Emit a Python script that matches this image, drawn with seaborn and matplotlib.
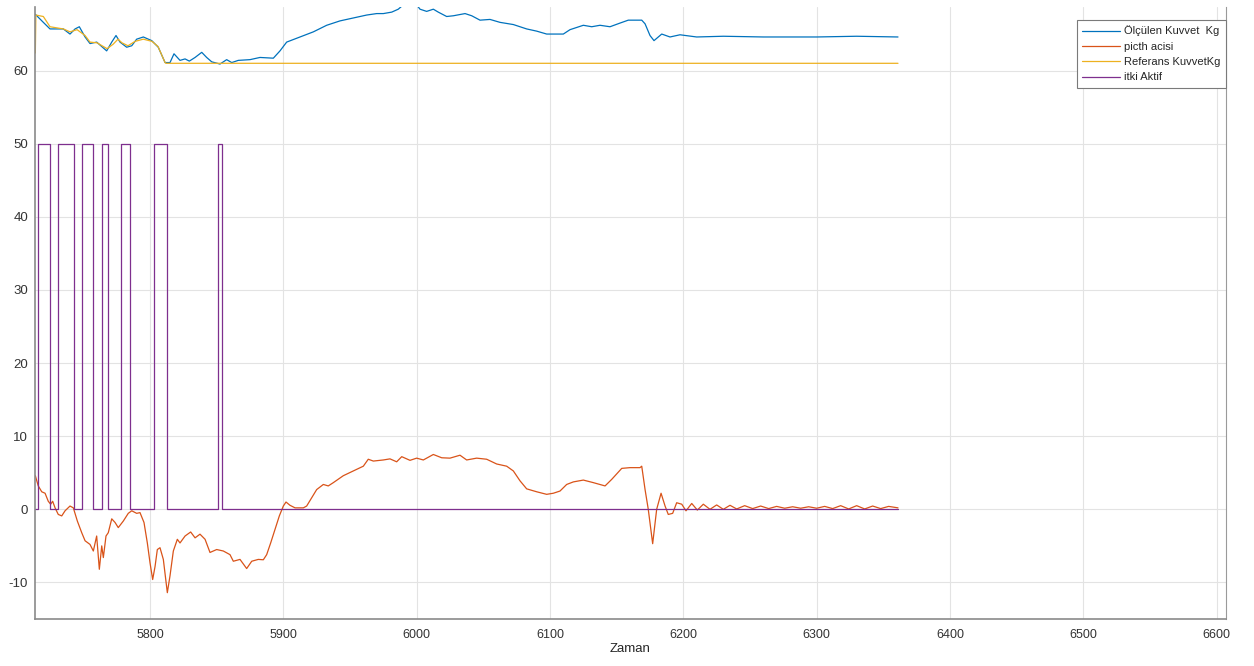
import matplotlib
matplotlib.use("Agg")
import matplotlib.pyplot as plt
import seaborn as sns

# Ölçülen kuvvet (mavi)
olculen_x = [5714, 5720, 5725, 5735, 5740, 5743.8, 5747, 5751.3, 5755, 5760,
             5767.5, 5771.3, 5774.5, 5777.5, 5782.5, 5786.3, 5790, 5795, 5801.3, 5806.2,
             5811.3, 5815, 5818, 5822.5, 5826.3, 5829.5, 5833.8, 5838.8, 5842.5, 5846.3,
             5852.5, 5857.5, 5861.3, 5866.2, 5875, 5882.5, 5892.5, 5897.5, 5902.5, 5912.5,
             5922.5, 5932.5, 5942.5, 5952.5, 5962.5, 5970, 5975, 5981.3, 5986.2, 5990,
             5995, 6000, 6002.5, 6007.5, 6012.5, 6016.2, 6022.5, 6027.5, 6036.3, 6041.3,
             6047.5, 6055, 6062.5, 6072.5, 6082.5, 6090, 6097.5, 6110, 6115, 6125,
             6131.3, 6137.5, 6145, 6152.5, 6158.7, 6168.8, 6171.3, 6175, 6178, 6183.8,
             6190, 6197.5, 6210, 6230, 6260, 6300, 6330, 6361]
olculen_y = [67.7, 66.6, 65.7, 65.7, 65.0, 65.7, 66.0, 64.6, 63.7, 63.9,
             62.7, 63.9, 64.8, 63.9, 63.2, 63.4, 64.3, 64.6, 64.1, 63.2,
             61.1, 61.1, 62.3, 61.4, 61.6, 61.3, 61.8, 62.5, 61.8, 61.2,
             60.9, 61.5, 61.1, 61.4, 61.5, 61.8, 61.7, 62.7, 63.9, 64.6,
             65.3, 66.2, 66.8, 67.2, 67.6, 67.8, 67.8, 68.0, 68.4, 69.0,
             69.3, 69.0, 68.4, 68.1, 68.4, 68.0, 67.4, 67.5, 67.8, 67.5,
             66.9, 67.0, 66.6, 66.3, 65.7, 65.4, 65.0, 65.0, 65.6, 66.2,
             66.0, 66.2, 66.0, 66.5, 66.9, 66.9, 66.4, 64.8, 64.1, 65.0,
             64.6, 64.9, 64.6, 64.7, 64.6, 64.6, 64.7, 64.6]

# picth acisi (turuncu)
pitch_x = [5714, 5716.2, 5718.8, 5721.3, 5723.7, 5725.5, 5727, 5728.8, 5731.2, 5733.8,
           5736.3, 5740, 5742.5, 5745.5, 5748.8, 5751.3, 5755, 5757.5, 5760, 5762,
           5763.8, 5765, 5767, 5768.7, 5771.3, 5773.8, 5776.2, 5780, 5783.7, 5786.3,
           5790, 5792.5, 5795.5, 5798, 5800, 5802, 5803.8, 5805.5, 5807.5, 5810,
           5813, 5815, 5817.5, 5820.5, 5822.5, 5826.3, 5830.5, 5833.8, 5837.5, 5841.3,
           5845, 5850, 5855, 5860, 5862.5, 5867.5, 5872.5, 5876.3, 5881.2, 5885,
           5887.5, 5890.5, 5893.8, 5897, 5900, 5902, 5905, 5908.8, 5915, 5917.5,
           5921.3, 5925, 5930, 5933.7, 5937.5, 5945, 5952.5, 5960, 5963.7, 5967.5,
           5975, 5980, 5985, 5988.8, 5995, 6000, 6005, 6012.5, 6018.8, 6025,
           6032.5, 6037.5, 6045, 6052.5, 6060, 6067.5, 6072.5, 6077.5, 6082.5, 6090,
           6097.5, 6102.5, 6107.5, 6112.5, 6117.5, 6125, 6132.5, 6141.3, 6146.3, 6153.8,
           6160, 6167.5, 6168.8, 6171.3, 6173.7, 6177, 6180, 6183.3, 6186.3, 6188.7,
           6192, 6195, 6198.8, 6202, 6206.3, 6210.5, 6215, 6220, 6225, 6230,
           6235, 6240, 6246, 6252, 6258, 6264, 6270, 6276, 6282, 6288,
           6294, 6300, 6306, 6312, 6318, 6324, 6330, 6336, 6342, 6348,
           6354, 6361]
pitch_y = [4.6, 3.2, 2.4, 2.2, 1.1, 0.7, 1.1, 0.2, -0.7, -0.9,
           -0.2, 0.45, 0.2, -1.6, -3.2, -4.3, -4.8, -5.7, -3.65, -8.2,
           -5.0, -6.6, -3.65, -3.2, -1.3, -1.8, -2.5, -1.6, -0.55, -0.2,
           -0.55, -0.45, -1.8, -4.6, -7.3, -9.6, -7.8, -5.5, -5.25, -6.85,
           -11.4, -9.1, -5.7, -4.1, -4.6, -3.65, -3.1, -3.9, -3.4, -4.1,
           -5.9, -5.5, -5.7, -6.2, -7.1, -6.85, -8.1, -7.1, -6.85, -6.9,
           -6.2, -4.6, -2.7, -0.9, 0.45, 1.0, 0.55, 0.2, 0.2, 0.45,
           1.6, 2.7, 3.4, 3.2, 3.65, 4.6, 5.25, 5.9, 6.85, 6.6,
           6.75, 6.9, 6.5, 7.2, 6.7, 7.0, 6.75, 7.5, 7.05, 7.0,
           7.4, 6.75, 7.0, 6.85, 6.2, 5.9, 5.25, 3.9, 2.8, 2.4,
           2.05, 2.2, 2.5, 3.4, 3.75, 4.0, 3.65, 3.2, 4.1, 5.6,
           5.7, 5.7, 5.9, 2.7, 0.0, -4.7, 0.0, 2.2, 0.45, -0.7,
           -0.55, 0.9, 0.7, -0.2, 0.8, -0.1, 0.7, 0.0, 0.6, 0.0,
           0.55, 0.05, 0.5, 0.1, 0.45, 0.1, 0.4, 0.15, 0.35, 0.15,
           0.35, 0.15, 0.4, 0.1, 0.5, 0.05, 0.5, 0.05, 0.45, 0.1,
           0.4, 0.2]

# Referans kuvvet (sarı)
referans_x = [5714, 5714.4, 5720, 5725, 5735, 5740, 5745.3, 5751.3, 5755, 5760.3,
              5767.8, 5772.3, 5776, 5779, 5783.5, 5788.8, 5795, 5801.5, 5806, 5811.3,
              5812, 6361]
referans_y = [62.4, 67.6, 67.4, 66.0, 65.7, 65.3, 65.6, 64.8, 63.9, 63.8,
              63.0, 63.6, 64.3, 63.8, 63.4, 64.0, 64.3, 64.0, 63.3, 61.1,
              61.0, 61.0]

# itki Aktif (mor), anahtarlama anları
itki_t = [5714, 5715.8, 5725, 5731, 5743, 5749, 5757, 5764, 5768.7, 5778,
          5784.8, 5803, 5812.5, 5851, 5854, 6361]
itki_v = [0, 50, 0, 50, 0, 50, 0, 50, 0, 50,
          0, 50, 0, 50, 0, 0]

etiketler = ["Ölçülen Kuvvet  Kg", "picth acisi", "Referans KuvvetKg", "itki Aktif"]
renkler = ["#0072BD", "#D95319", "#EDB120", "#7E2F8E"]

sns.set_style("white")
plt.rcParams["font.family"] = ["Liberation Sans", "DejaVu Sans"]
plt.rcParams["axes.unicode_minus"] = False

fig = plt.figure(figsize=(12.54, 6.66), dpi=100)
ax = fig.add_axes([35 / 1254, 47 / 666, 1191 / 1254, 612 / 666])

sns.lineplot(x=olculen_x, y=olculen_y, ax=ax, color=renkler[0], lw=0.9,
             label=etiketler[0], estimator=None, sort=False)
sns.lineplot(x=pitch_x, y=pitch_y, ax=ax, color=renkler[1], lw=0.9,
             label=etiketler[1], estimator=None, sort=False)
sns.lineplot(x=referans_x, y=referans_y, ax=ax, color=renkler[2], lw=0.9,
             label=etiketler[2], estimator=None, sort=False)
sns.lineplot(x=itki_t, y=itki_v, ax=ax, color=renkler[3], lw=0.9,
             label=etiketler[3], estimator=None, sort=False, drawstyle="steps-post")

ax.set_xlim(5713.75, 6607)
ax.set_ylim(-15, 68.7)
ax.set_xticks(range(5800, 6601, 100))
ax.set_yticks(range(-10, 61, 10))
ax.grid(True, color="#e3e3e3", lw=0.8)
ax.set_axisbelow(True)

ax.tick_params(axis="x", direction="in", length=9, width=0.8, color="#333333",
               labelsize=9, labelcolor="#333333", pad=7)
ax.tick_params(axis="y", direction="in", length=5, width=0.8, color="#333333",
               labelsize=9.5, labelcolor="#333333", pad=5)
for s in ["left", "bottom"]:
    ax.spines[s].set_color("#8a8a8a")
    ax.spines[s].set_linewidth(1.2)
ax.spines["right"].set_color("#9a9a9a")
ax.spines["right"].set_linewidth(0.8)
ax.spines["top"].set_visible(False)

ax.set_xlabel("Zaman", fontsize=9.5, color="#262626", labelpad=2)
ax.set_ylabel("")

leg = ax.legend(loc="upper right", bbox_to_anchor=(1.0, 1 - 13 / 612),
                borderaxespad=0, fontsize=8, handlelength=3.4, handletextpad=0.35,
                labelspacing=0.48, borderpad=0.5, fancybox=False, framealpha=1,
                edgecolor="#7a7a7a")
leg.get_frame().set_linewidth(0.8)

fig.savefig("out.png", dpi=100)
